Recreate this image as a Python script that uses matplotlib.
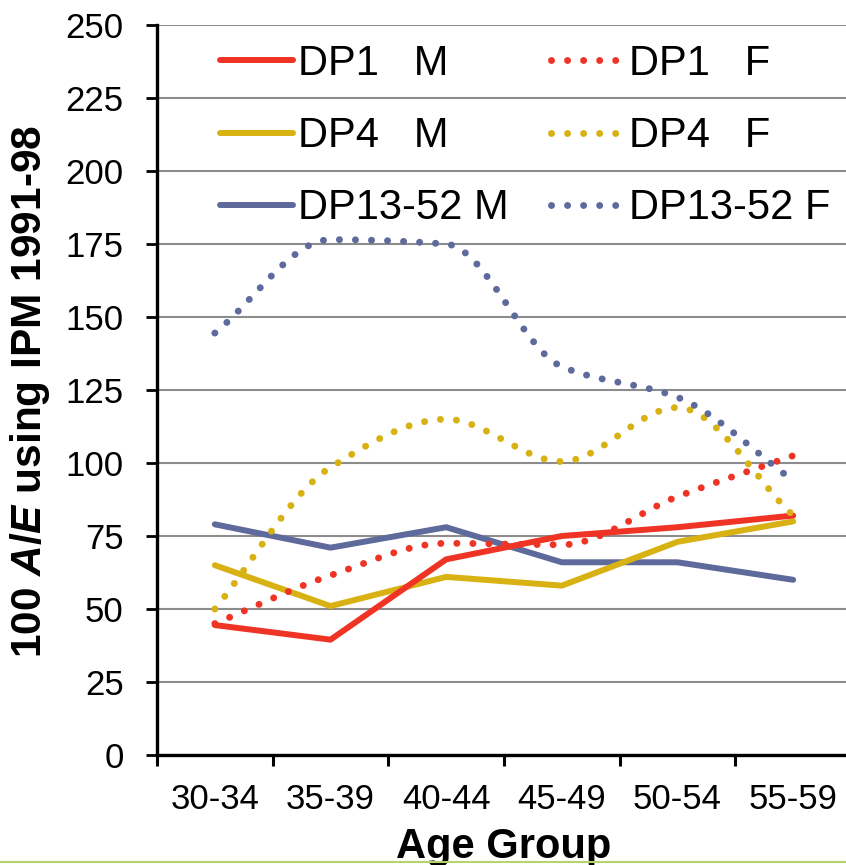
import numpy as np
import matplotlib
matplotlib.use('Agg')
import matplotlib.pyplot as plt
from matplotlib.lines import Line2D

plt.rcParams['font.family'] = ['Liberation Sans', 'DejaVu Sans']
plt.rcParams['mathtext.fontset'] = 'custom'
plt.rcParams['mathtext.it'] = 'Liberation Sans:italic:bold'
plt.rcParams['mathtext.rm'] = 'Liberation Sans:bold'

age_groups = ['30-34', '35-39', '40-44', '45-49', '50-54', '55-59']

# males (straight lines)
dp1_m = [44.5, 39.5, 67, 75, 78, 82]
dp4_m = [65, 51, 61, 58, 73, 80]
dp13_m = [79, 71, 78, 66, 66, 60]
# females (smoothed, dotted)
dp1_f = [45, 61.5, 72.5, 72, 88.5, 102.5]
dp4_f = [50, 98.5, 115, 100.5, 119, 82]
dp13_f = [144.5, 176.5, 175, 133, 122.5, 94]

red = '#EF3426'
gold = '#D8B112'
blue = '#5F6A9C'


def smooth(y, n=40):
    # monotone cubic through the points, close to Excel's smoothed line
    y = np.asarray(y, float)
    d = np.diff(y)
    m = np.zeros(len(y))
    m[0], m[-1] = d[0], d[-1]
    for i in range(1, len(y) - 1):
        if d[i - 1] * d[i] > 0:
            m[i] = 2 / (1 / d[i - 1] + 1 / d[i])
    t = np.linspace(0, 1, n)
    h00 = 2 * t**3 - 3 * t**2 + 1
    h10 = t**3 - 2 * t**2 + t
    h01 = -2 * t**3 + 3 * t**2
    h11 = t**3 - t**2
    xs, ys = [], []
    for i in range(len(y) - 1):
        sl = slice(0, n) if i == 0 else slice(1, n)
        xs.append((i + t)[sl])
        ys.append((h00 * y[i] + h10 * m[i] + h01 * y[i + 1] + h11 * m[i + 1])[sl])
    return np.concatenate(xs), np.concatenate(ys)


fig = plt.figure(figsize=(8.46, 8.65), dpi=100)
ax = fig.add_axes([157 / 846, 1 - 755 / 865, 694 / 846, 730 / 865])

x = np.arange(len(age_groups))
lw = 4.3
dlw = 5.0
dots = (0, (0.01, 2.3))

h1, = ax.plot(x, dp1_m, color=red, lw=lw, solid_capstyle='round', zorder=5, label='DP1   M')
h2, = ax.plot(x, dp4_m, color=gold, lw=lw, solid_capstyle='round', zorder=4, label='DP4   M')
h3, = ax.plot(x, dp13_m, color=blue, lw=lw, solid_capstyle='round', zorder=3, label='DP13-52 M')

sx, sy = smooth(dp1_f)
h4, = ax.plot(sx, sy, color=red, lw=dlw, ls=dots, dash_capstyle='round', zorder=6, label='DP1   F')
sx, sy = smooth(dp4_f)
h5, = ax.plot(sx, sy, color=gold, lw=dlw, ls=dots, dash_capstyle='round', zorder=6, label='DP4   F')
sx, sy = smooth(dp13_f)
h6, = ax.plot(sx, sy, color=blue, lw=dlw, ls=dots, dash_capstyle='round', zorder=6, label='DP13-52 F')

ax.set_xlim(-0.5, len(age_groups) - 0.5)
ax.set_ylim(0, 250)
ax.set_yticks(range(0, 251, 25))
ax.set_xticks(np.arange(-0.5, len(age_groups)))
ax.set_xticklabels([])
ax.set_xticks(x, minor=True)
ax.set_xticklabels(age_groups, minor=True)

ax.tick_params(axis='x', which='major', length=8, width=2.2, direction='out')
ax.tick_params(axis='x', which='minor', length=0, pad=20, labelsize=25)
ax.tick_params(axis='y', length=8, width=2, direction='out', pad=16, labelsize=25)

ax.yaxis.grid(True, color='#8C8C8C', lw=1.5)
ax.set_axisbelow(True)
for s in ['top', 'right']:
    ax.spines[s].set_visible(False)
for s in ['left', 'bottom']:
    ax.spines[s].set_linewidth(2.4)
    ax.spines[s].set_color('black')

leg = ax.legend(handles=[h1, h2, h3, h4, h5, h6], ncol=2, frameon=False, fontsize=30,
                loc='upper left', bbox_to_anchor=(220 / 846, 1 - 44 / 865),
                bbox_transform=fig.transFigure, borderpad=0, borderaxespad=0,
                handlelength=1.75, handletextpad=0.12, columnspacing=1.02,
                labelspacing=0.77)

fig.text(30 / 846, 1 - 391 / 865, r'100 $\mathit{A/E}$ using IPM 1991-98', rotation=90,
         ha='center', va='center', fontsize=30.5, fontweight='bold')
fig.text(504 / 846, 1 - 858 / 865, 'Age Group', ha='center', va='baseline',
         fontsize=30, fontweight='bold')

fig.add_artist(Line2D([0, 1], [1 - 862 / 865] * 2, color='#B4D46C', lw=1.5,
                      transform=fig.transFigure, zorder=10))

fig.savefig('out.png', dpi=100)
